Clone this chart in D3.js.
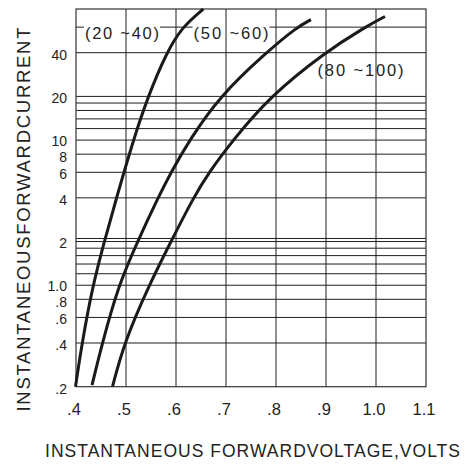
<!DOCTYPE html>
<html>
<head>
<meta charset="utf-8">
<script src="https://cdn.jsdelivr.net/npm/d3@7"></script>
<style>
  html, body { margin: 0; padding: 0; background: #fff; }
  text { font-family: "Liberation Sans", Arial, Helvetica, sans-serif; fill: #222; }
</style>
</head>
<body>
<svg id="chart" width="471" height="466"></svg>
<script>
// ---- data ----
const voltageTicks = [0.4, 0.5, 0.6, 0.7, 0.8, 0.9, 1.0, 1.1];
const voltageTickLabels = [".4", ".5", ".6", ".7", ".8", ".9", "1.0", "1.1"];
const currentTicks = [40, 20, 10, 8, 6, 4, 2, 1.0, 0.8, 0.6, 0.4, 0.2];
const currentTickLabels = ["40", "20", "10", "8", "6", "4", "2", "1.0", ".8", ".6", ".4", ".2"];
const currentGrid = [0.4, 0.6, 0.8, 1.0, 1.2, 1.4, 1.6, 1.8, 2, 2.1, 4, 6, 8, 10, 12, 14, 16, 18, 20, 40, 60];
const voltageGrid = [0.5, 0.6, 0.7, 0.8, 0.9, 1.0];

const seriesNames = ["(20 ~40)", "(50 ~60)", "(80 ~100)"];
const curve1V = [0.399, 0.412, 0.4336, 0.4566, 0.481, 0.5146, 0.544, 0.581, 0.612, 0.6546];
const curve1I = [0.2, 0.4, 1.0, 2, 4, 10, 20, 40, 60, 80];
const curve2V = [0.432, 0.4526, 0.485, 0.523, 0.564, 0.590, 0.627, 0.687, 0.780, 0.842, 0.870];
const curve2I = [0.205, 0.4, 1.0, 2, 4, 6, 10, 20, 40, 60, 67.6];
const curve3V = [0.473, 0.496, 0.546, 0.590, 0.6346, 0.666, 0.714, 0.788, 0.897, 0.978, 1.018];
const curve3I = [0.2, 0.4, 1.0, 2, 4, 6, 10, 20, 40, 60, 71];
// label anchor (voltage, current) of each curve's name
const labelV = [0.418, 0.635, 0.883];
const labelI = [50, 50, 27.5];

const xTitle = "INSTANTANEOUS FORWARDVOLTAGE,VOLTS";
const yTitle = "INSTANTANEOUSFORWARDCURRENT";

// ---- layout ----
const svg = d3.select("#chart");
const plotL = 76, plotR = 426, plotT = 9, plotB = 386.7;
const x = d3.scaleLinear().domain([0.4, 1.1]).range([plotL, plotR]);
const y = d3.scaleLog().domain([0.2, 80]).range([plotB, plotT]);

svg.append("rect").attr("width", 471).attr("height", 466).attr("fill", "#fff");

const gridColor = "#1e1e1e";
// horizontal grid
svg.append("g").selectAll("line").data(currentGrid).join("line")
  .attr("x1", plotL).attr("x2", plotR)
  .attr("y1", d => y(d)).attr("y2", d => y(d))
  .attr("stroke", gridColor).attr("stroke-width", 1);

// label backgrounds (hide horizontal lines behind the labels)
const labelSizes = [74, 75, 86];
const lbl = seriesNames.map((n, i) => ({ name: n, v: labelV[i], c: labelI[i], w: labelSizes[i] }));
svg.append("g").selectAll("rect").data(lbl).join("rect")
  .attr("x", d => x(d.v) - 1).attr("y", d => y(d.c) - 13)
  .attr("width", d => d.w + 2).attr("height", 16)
  .attr("fill", "#fff");

// vertical grid
svg.append("g").selectAll("line").data(voltageGrid).join("line")
  .attr("x1", d => x(d)).attr("x2", d => x(d))
  .attr("y1", plotT).attr("y2", plotB)
  .attr("stroke", gridColor).attr("stroke-width", 1);

// frame
svg.append("rect").attr("x", plotL).attr("y", plotT)
  .attr("width", plotR - plotL).attr("height", plotB - plotT)
  .attr("fill", "none").attr("stroke", "#333").attr("stroke-width", 1.2);

// curves (smooth B-spline through the read points)
const line = d3.line().x(d => x(d[0])).y(d => y(d[1])).curve(d3.curveBasis);
const curves = [
  d3.zip(curve1V, curve1I),
  d3.zip(curve2V, curve2I),
  d3.zip(curve3V, curve3I)
];
svg.append("g").selectAll("path").data(curves).join("path")
  .attr("d", line).attr("fill", "none")
  .attr("stroke", "#1a1a1a").attr("stroke-width", 3).attr("stroke-linecap", "butt");

// curve labels
svg.append("g").selectAll("text").data(lbl).join("text")
  .attr("x", d => x(d.v)).attr("y", d => y(d.c))
  .attr("font-size", 16.5)
  .attr("textLength", d => d.w).attr("lengthAdjust", "spacing")
  .text(d => d.name);

// y tick labels: centred a little below their grid line, nudged apart when crowded
const minGap = 16.5;
const tickPos = currentTicks.map(d => ({ v: d, c: y(d) + 2 }));
for (let i = 1; i < tickPos.length; i++) {
  const gap = tickPos[i].c - tickPos[i - 1].c;
  if (gap < minGap) {
    const push = (minGap - gap) / 2;
    tickPos[i - 1].c -= push;
    tickPos[i].c += push;
  }
}
svg.append("g").selectAll("text").data(tickPos).join("text")
  .attr("x", 67).attr("y", d => d.c).attr("dy", "0.35em")
  .attr("text-anchor", "end").attr("font-size", 14)
  .text((d, i) => currentTickLabels[i]);

// x tick labels
svg.append("g").selectAll("text").data(voltageTicks).join("text")
  .attr("x", d => x(d) - 2).attr("y", 415)
  .attr("text-anchor", "middle").attr("font-size", 16.5)
  .text((d, i) => voltageTickLabels[i]);

// axis titles
svg.append("text").attr("x", 45).attr("y", 456.5)
  .attr("font-size", 17.5).attr("textLength", 415).attr("lengthAdjust", "spacing")
  .text(xTitle);
svg.append("text")
  .attr("transform", "translate(30,411.5) rotate(-90)")
  .attr("font-size", 18.5).attr("textLength", 384).attr("lengthAdjust", "spacing")
  .text(yTitle);
</script>
</body>
</html>
